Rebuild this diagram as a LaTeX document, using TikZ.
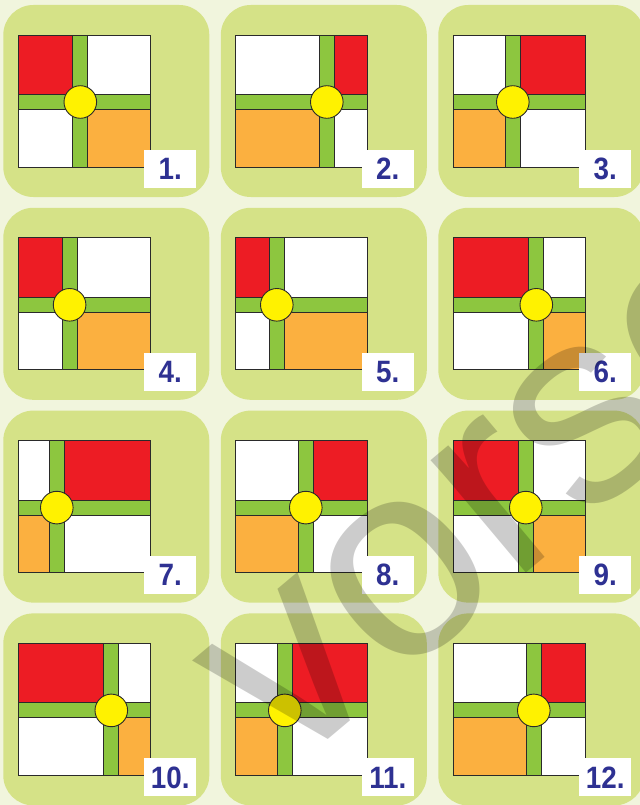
\documentclass[tikz,border=0pt]{standalone}
\usepackage{fontspec}
\setmainfont{Liberation Sans}
\newfontfamily\labfont{Liberation Sans}
\definecolor{bgc}{HTML}{F1F5DD}
\definecolor{panelc}{HTML}{D5E287}
\definecolor{redc}{HTML}{ED1C24}
\definecolor{orc}{HTML}{FBB040}
\definecolor{grc}{HTML}{8DC63F}
\definecolor{yelc}{HTML}{FFF200}
\definecolor{bluec}{HTML}{2E3192}
\definecolor{linec}{HTML}{2A2A2A}
\tikzset{
  panel/.style={fill=panelc, rounded corners=30bp},
  quad/.style={draw=linec, line width=0.9bp},
  bar/.style={fill=grc, draw=linec, line width=0.9bp},
  hub/.style={circle, fill=yelc, draw=linec, line width=0.9bp, minimum size=32.6bp, inner sep=0pt},
  labbox/.style={fill=white},
  labtext/.style={text=bluec, font=\labfont\bfseries\fontsize{31}{31}\selectfont, inner sep=0pt},
  wmark/.style={text=black, text opacity=0.2, font=\fontsize{280}{280}\selectfont, inner sep=0pt}
}
\begin{document}
\begin{tikzpicture}[x=1bp,y=-1bp]
\fill[bgc] (0,0) rectangle (640,805);
\useasboundingbox (0,0) rectangle (640,805);
\clip (0,0) rectangle (640,805);
\foreach \n/\c/\r/\v/\t in {1/0/0/62/A, 2/1/0/91/B, 3/2/0/59.5/B, 4/0/1/51.3/A, 5/1/1/41/A, 6/2/1/83/A, 7/0/2/38.5/B, 8/1/2/70/B, 9/2/2/72.5/A, 10/0/3/93/A, 11/1/3/49/B, 12/2/3/80.5/B}{
  \pgfmathsetmacro\L{18.3+217.5*\c}
  \pgfmathsetmacro\T{35+202.8*\r}
  \begin{scope}[shift={(\L,\T)}]
    \fill[panel] (-15,-30) rectangle (191,162);
    \if\t A
      \def\ctl{redc}\def\ctr{white}\def\cbl{white}\def\cbr{orc}
    \else
      \def\ctl{white}\def\ctr{redc}\def\cbl{orc}\def\cbr{white}
    \fi
    \filldraw[quad, fill=\ctl] (0,0) rectangle (\v-7.5,59.5);
    \filldraw[quad, fill=\ctr] (\v+7.5,0) rectangle (132,59.5);
    \filldraw[quad, fill=\cbl] (0,74.5) rectangle (\v-7.5,132);
    \filldraw[quad, fill=\cbr] (\v+7.5,74.5) rectangle (132,132);
    \filldraw[bar] (0,59.5) rectangle (132,74.5);
    \filldraw[bar] (\v-7.5,0) rectangle (\v+7.5,132);
    \node[hub] (hub\n) at (\v,67) {};
    \fill[labbox] (126,115) rectangle (178,153);
    \node[labtext] (lab\n) at (152,134) {\scalebox{0.9}[1]{\n.}};
  \end{scope}
}
\node[wmark, rotate=40, anchor=base west] (wm) at (286,775) {vorschau};
\end{tikzpicture}
\end{document}
